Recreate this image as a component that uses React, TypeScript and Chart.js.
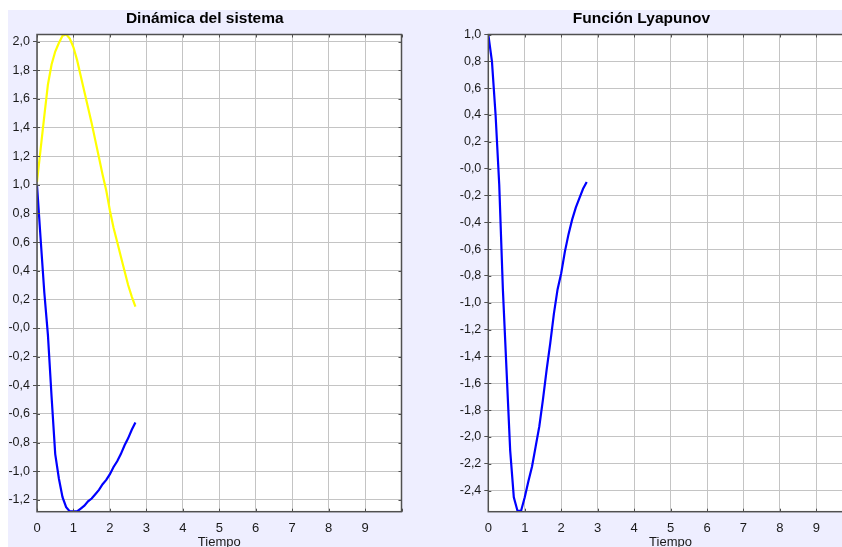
import React, { useEffect, useRef } from 'react';
import { Chart, registerables } from 'chart.js';

Chart.register(...registerables);

// ---- data ----
const TIME = [0, 0.1, 0.2, 0.3, 0.4, 0.5, 0.6, 0.7, 0.8, 0.9, 1.0, 1.1, 1.2, 1.3, 1.4, 1.5, 1.6, 1.7, 1.8, 1.9, 2.0, 2.1, 2.2, 2.3, 2.4, 2.5, 2.6, 2.7];

const ESTADO_AMARILLO = [1.02, 1.25, 1.48, 1.7, 1.84, 1.93, 1.99, 2.04, 2.05, 2.02, 1.96, 1.87, 1.76, 1.65, 1.54, 1.43, 1.31, 1.19, 1.07, 0.96, 0.82, 0.7, 0.6, 0.5, 0.4, 0.3, 0.22, 0.15];

const ESTADO_AZUL = [1.0, 0.62, 0.25, -0.05, -0.48, -0.88, -1.05, -1.18, -1.25, -1.28, -1.28, -1.28, -1.26, -1.24, -1.21, -1.19, -1.16, -1.13, -1.09, -1.06, -1.02, -0.97, -0.93, -0.88, -0.82, -0.77, -0.71, -0.66];

const LYAPUNOV = [1.0, 0.8, 0.4, -0.12, -0.9, -1.5, -2.1, -2.45, -2.55, -2.55, -2.45, -2.33, -2.22, -2.07, -1.92, -1.72, -1.5, -1.3, -1.08, -0.9, -0.78, -0.62, -0.49, -0.38, -0.29, -0.22, -0.15, -0.1];

const X_TICKS = [0, 1, 2, 3, 4, 5, 6, 7, 8, 9, 10];
const X_TICK_LABELS = ['0', '1', '2', '3', '4', '5', '6', '7', '8', '9', ''];

const LEFT_Y_TICKS = [2.0, 1.8, 1.6, 1.4, 1.2, 1.0, 0.8, 0.6, 0.4, 0.2, 0.0, -0.2, -0.4, -0.6, -0.8, -1.0, -1.2];
const LEFT_Y_LABELS = ['2,0', '1,8', '1,6', '1,4', '1,2', '1,0', '0,8', '0,6', '0,4', '0,2', '-0,0', '-0,2', '-0,4', '-0,6', '-0,8', '-1,0', '-1,2'];
const LEFT_Y_RANGE = [-1.282, 2.049];

const RIGHT_Y_TICKS = [1.0, 0.8, 0.6, 0.4, 0.2, 0.0, -0.2, -0.4, -0.6, -0.8, -1.0, -1.2, -1.4, -1.6, -1.8, -2.0, -2.2, -2.4];
const RIGHT_Y_LABELS = ['1,0', '0,8', '0,6', '0,4', '0,2', '-0,0', '-0,2', '-0,4', '-0,6', '-0,8', '-1,0', '-1,2', '-1,4', '-1,6', '-1,8', '-2,0', '-2,2', '-2,4'];
const RIGHT_Y_RANGE = [-2.557, 1.0];

const TITLE_LEFT = 'Dinámica del sistema';
const TITLE_RIGHT = 'Función Lyapunov';
const X_TITLE = 'Tiempo';

// ---- styling ----
const FONT = 'Liberation Sans, Arial, sans-serif';
const BG = '#EEEEFF';
const GRID = '#C4C4C4';
const FRAME = '#505050';
const TEXT = '#1A1A1A';
const CANVAS_H = 544;
const X_AXIS_H = 42.3;

const framePlugin = {
  id: 'frame',
  beforeDraw(chart: any) {
    const { ctx, chartArea: a } = chart;
    ctx.save();
    ctx.fillStyle = '#FFFFFF';
    ctx.fillRect(a.left, a.top, a.right - a.left, a.bottom - a.top);
    ctx.restore();
  },
  afterDatasetsDraw(chart: any) {
    const { ctx, chartArea: a, scales } = chart;
    ctx.save();
    ctx.strokeStyle = FRAME;
    ctx.lineWidth = 1;
    const tl = 3;
    ctx.beginPath();
    for (const t of scales.x.ticks) {
      const px = Math.round(scales.x.getPixelForValue(t.value)) + 0.5;
      ctx.moveTo(px, a.top);
      ctx.lineTo(px, a.top + tl);
      ctx.moveTo(px, a.bottom);
      ctx.lineTo(px, a.bottom - tl);
    }
    for (const t of scales.y.ticks) {
      const py = Math.round(scales.y.getPixelForValue(t.value)) + 0.5;
      ctx.moveTo(a.right, py);
      ctx.lineTo(a.right - tl, py);
      ctx.moveTo(a.left, py);
      ctx.lineTo(a.left + tl, py);
    }
    ctx.stroke();
    ctx.lineWidth = 1.5;
    ctx.strokeRect(a.left, a.top, a.right - a.left, a.bottom - a.top);
    ctx.restore();
  },
};

type Series = { values: number[]; color: string };

function Panel(props: {
  title: string;
  series: Series[];
  yTicks: number[];
  yLabels: string[];
  yRange: number[];
  yWidth: number;
  padRight: number;
  width: number;
  left: number;
}) {
  const ref = useRef<HTMLCanvasElement>(null);
  useEffect(() => {
    if (!ref.current) return;
    const chart = new Chart(ref.current, {
      type: 'line',
      data: {
        datasets: props.series.map((s) => ({
          data: TIME.map((t, i) => ({ x: t, y: s.values[i] })),
          borderColor: s.color,
          backgroundColor: s.color,
          borderWidth: 2.2,
          pointRadius: 0,
          fill: false,
          tension: 0,
        })),
      },
      options: {
        responsive: false,
        animation: false,
        layout: { padding: { left: 0, right: props.padRight, top: 0, bottom: 0 } },
        plugins: {
          legend: { display: false },
          tooltip: { enabled: false },
          title: {
            display: true,
            text: props.title,
            color: '#000000',
            font: { family: FONT, size: 15.5, weight: 'bold', lineHeight: 1 },
            padding: { top: 1, bottom: 8 },
          },
        },
        scales: {
          x: {
            type: 'linear',
            min: 0,
            max: 10,
            afterBuildTicks: (s: any) => {
              s.ticks = X_TICKS.map((v) => ({ value: v }));
            },
            afterFit: (s: any) => {
              s.height = X_AXIS_H;
            },
            ticks: {
              autoSkip: false,
              maxRotation: 0,
              padding: 9,
              color: TEXT,
              font: { family: FONT, size: 13 },
              callback: (_v: any, i: number) => X_TICK_LABELS[i],
            },
            grid: { color: GRID, lineWidth: 1, drawTicks: false },
            border: { display: false },
            title: {
              display: true,
              text: X_TITLE,
              color: TEXT,
              font: { family: FONT, size: 13 },
              padding: { top: 0, bottom: 4 },
            },
          },
          y: {
            type: 'linear',
            min: props.yRange[0],
            max: props.yRange[1],
            afterBuildTicks: (s: any) => {
              s.ticks = props.yTicks.map((v) => ({ value: v }));
            },
            afterFit: (s: any) => {
              s.width = props.yWidth;
            },
            ticks: {
              autoSkip: false,
              padding: 3,
              color: TEXT,
              font: { family: FONT, size: 12.5 },
              callback: (_v: any, i: number) => props.yLabels[i],
            },
            grid: { color: GRID, lineWidth: 1, drawTicks: true, tickLength: 4, tickColor: FRAME },
            border: { display: false },
          },
        },
      },
      plugins: [framePlugin],
    } as any);
    return () => chart.destroy();
  }, []);
  return (
    <canvas
      ref={ref}
      width={props.width}
      height={CANVAS_H}
      style={{ position: 'absolute', left: props.left, top: 0, width: props.width, height: CANVAS_H }}
    />
  );
}

export default function App() {
  return (
    <div
      style={{
        position: 'absolute',
        left: 8,
        top: 10,
        width: 834,
        height: 537,
        background: BG,
        overflow: 'hidden',
      }}
    >
      <Panel
        title={TITLE_LEFT}
        series={[
          { values: ESTADO_AMARILLO, color: '#FFFF00' },
          { values: ESTADO_AZUL, color: '#0000FF' },
        ]}
        yTicks={LEFT_Y_TICKS}
        yLabels={LEFT_Y_LABELS}
        yRange={LEFT_Y_RANGE}
        yWidth={29}
        padRight={28.5}
        width={422}
        left={0}
      />
      <Panel
        title={TITLE_RIGHT}
        series={[{ values: LYAPUNOV, color: '#0000FF' }]}
        yTicks={RIGHT_Y_TICKS}
        yLabels={RIGHT_Y_LABELS}
        yRange={RIGHT_Y_RANGE}
        yWidth={58.3}
        padRight={27.2}
        width={450}
        left={422}
      />
    </div>
  );
}
